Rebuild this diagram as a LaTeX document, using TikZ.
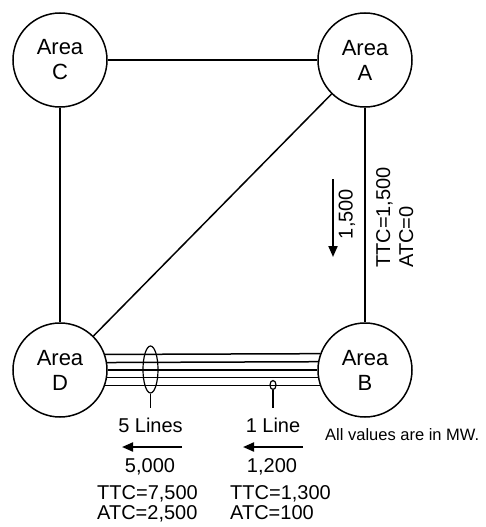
\documentclass[tikz,border=0pt]{standalone}
\usepackage{fontspec}
\setmainfont{Liberation Sans}
\usetikzlibrary{shapes.geometric,arrows.meta}
\begin{document}
\begin{tikzpicture}[x=1pt,y=-1pt,
  area/.style={circle,draw,line width=1.5pt,minimum size=94pt,inner sep=0pt,align=center,
    font=\fontsize{22}{25}\selectfont},
  link/.style={line width=1.5pt},
  tie/.style={line width=1.2pt},
  flow/.style={line width=2pt,-{Triangle[length=11pt,width=9pt]}},
  lbl/.style={font=\fontsize{20}{20}\selectfont,inner sep=0pt},
  note/.style={font=\fontsize{16.5}{18}\selectfont,inner sep=0pt}]
\useasboundingbox (0,0) rectangle (486,527);
\node[area] (C) at (60,60) {Area\\C};
\node[area] (A) at (365,60) {Area\\A};
\node[area] (D) at (60,370) {Area\\D};
\node[area] (B) at (365,370) {Area\\B};
\draw[link] (C) -- (A);
\draw[link] (C) -- (D);
\draw[link] (A) -- (B);
\draw[link] (D) -- (A);
\foreach \a in {19.9,9.8,0,-9.8,-19.9}{
  \draw[link] (D.\a) -- (B.{180-\a});
}
% bundle markers
\node[ellipse,draw,line width=1.2pt,minimum width=15pt,minimum height=47pt,inner sep=0pt] (E5) at (150.5,369.5) {};
\coordinate (E5t) at (150.5,408);
\draw[tie] (E5.south) -- (E5t);
\node[ellipse,draw,line width=1.2pt,minimum width=6pt,minimum height=9pt,inner sep=0pt] (E1) at (273,385) {};
\coordinate (E1t) at (273,408);
\draw[tie] (E1.south) -- (E1t);
% bottom labels
\node[lbl,anchor=base] (L5) at (150.5,432) {5 Lines};
\node[lbl,anchor=base] (L1) at (273,432) {1 Line};
\node[note,anchor=base west] (N) at (325,440) {All values are in MW.};
\coordinate (f5s) at (182,447); \coordinate (f5e) at (122,447);
\coordinate (f1s) at (303,447); \coordinate (f1e) at (243,447);
\draw[flow] (f5s) -- (f5e);
\draw[flow] (f1s) -- (f1e);
\node[lbl,anchor=base] (V5) at (150,472) {5,000};
\node[lbl,anchor=base] (V1) at (272,472) {1,200};
\node[lbl,anchor=base west,align=left] (T5) at (97,499) {TTC=7,500};
\node[lbl,anchor=base west,align=left] (A5) at (97,519) {ATC=2,500};
\node[lbl,anchor=base west,align=left] (T1) at (230,499) {TTC=1,300};
\node[lbl,anchor=base west,align=left] (A1) at (230,519) {ATC=100};
% A-B labels
\coordinate (fas) at (333,179); \coordinate (fae) at (333,257);
\draw[flow] (fas) -- (fae);
\node[lbl,rotate=90] (VA) at (347,214) {1,500};
\node[lbl,rotate=90,anchor=base west] (TA) at (390,268) {TTC=1,500};
\node[lbl,rotate=90,anchor=base west] (AA) at (413,268) {ATC=0};
\end{tikzpicture}
\end{document}
